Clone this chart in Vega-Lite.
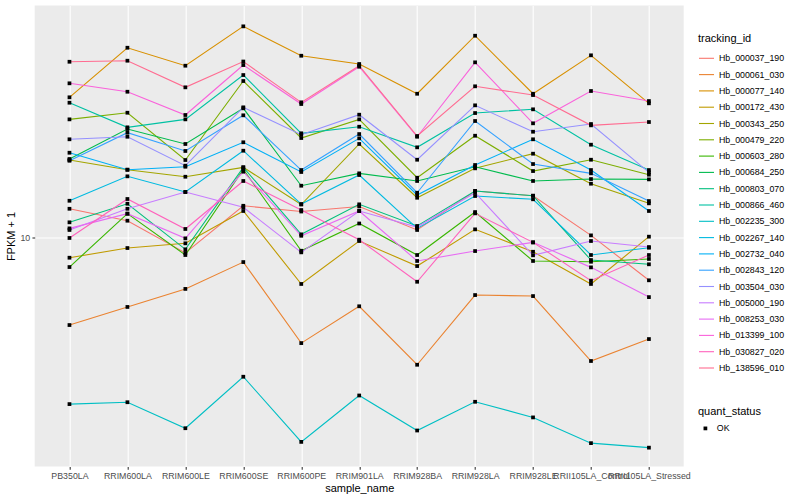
{
"$schema": "https://vega.github.io/schema/vega-lite/v6.json",
"autosize": {"type": "none"},
"padding": {"left": 34.7, "top": 5.5, "right": 116.3, "bottom": 33.5},
"width": 649,
"height": 461,
"background": "white",
"config": {
  "font": "Liberation Sans",
  "view": {"fill": "#EBEBEB", "stroke": null},
  "axis": {"domain": false, "grid": true, "gridColor": "white", "gridWidth": 1.07, "tickColor": "#333333", "tickWidth": 1.07, "tickSize": 2.75, "labelColor": "#4D4D4D", "labelFontSize": 8.8, "labelPadding": 2.2, "titleFontSize": 11, "titleFontWeight": "normal", "titleColor": "black", "labelFont": "Liberation Sans", "titleFont": "Liberation Sans"},
  "legend": {"labelFont": "Liberation Sans", "titleFont": "Liberation Sans", "labelFontSize": 8.8, "titleFontSize": 11, "titleFontWeight": "normal", "labelColor": "black", "titleColor": "black", "padding": 0}
},
"data": {"values": [
{"sample_name":"PB350LA","tracking_id":"Hb_000037_190","fpkm":12.45,"quant_status":"OK"},
{"sample_name":"RRIM600LA","tracking_id":"Hb_000037_190","fpkm":11.36,"quant_status":"OK"},
{"sample_name":"RRIM600LE","tracking_id":"Hb_000037_190","fpkm":8.87,"quant_status":"OK"},
{"sample_name":"RRIM600SE","tracking_id":"Hb_000037_190","fpkm":12.74,"quant_status":"OK"},
{"sample_name":"RRIM600PE","tracking_id":"Hb_000037_190","fpkm":12.19,"quant_status":"OK"},
{"sample_name":"RRIM901LA","tracking_id":"Hb_000037_190","fpkm":12.67,"quant_status":"OK"},
{"sample_name":"RRIM928BA","tracking_id":"Hb_000037_190","fpkm":10.58,"quant_status":"OK"},
{"sample_name":"RRIM928LA","tracking_id":"Hb_000037_190","fpkm":14.27,"quant_status":"OK"},
{"sample_name":"RRIM928LE","tracking_id":"Hb_000037_190","fpkm":13.76,"quant_status":"OK"},
{"sample_name":"RRII105LA_Control","tracking_id":"Hb_000037_190","fpkm":10.15,"quant_status":"OK"},
{"sample_name":"RRII105LA_Stressed","tracking_id":"Hb_000037_190","fpkm":7.19,"quant_status":"OK"},
{"sample_name":"PB350LA","tracking_id":"Hb_000061_030","fpkm":5.10,"quant_status":"OK"},
{"sample_name":"RRIM600LA","tracking_id":"Hb_000061_030","fpkm":5.86,"quant_status":"OK"},
{"sample_name":"RRIM600LE","tracking_id":"Hb_000061_030","fpkm":6.73,"quant_status":"OK"},
{"sample_name":"RRIM600SE","tracking_id":"Hb_000061_030","fpkm":8.27,"quant_status":"OK"},
{"sample_name":"RRIM600PE","tracking_id":"Hb_000061_030","fpkm":4.44,"quant_status":"OK"},
{"sample_name":"RRIM901LA","tracking_id":"Hb_000061_030","fpkm":5.89,"quant_status":"OK"},
{"sample_name":"RRIM928BA","tracking_id":"Hb_000061_030","fpkm":3.76,"quant_status":"OK"},
{"sample_name":"RRIM928LA","tracking_id":"Hb_000061_030","fpkm":6.42,"quant_status":"OK"},
{"sample_name":"RRIM928LE","tracking_id":"Hb_000061_030","fpkm":6.37,"quant_status":"OK"},
{"sample_name":"RRII105LA_Control","tracking_id":"Hb_000061_030","fpkm":3.87,"quant_status":"OK"},
{"sample_name":"RRII105LA_Stressed","tracking_id":"Hb_000061_030","fpkm":4.58,"quant_status":"OK"},
{"sample_name":"PB350LA","tracking_id":"Hb_000077_140","fpkm":29.29,"quant_status":"OK"},
{"sample_name":"RRIM600LA","tracking_id":"Hb_000077_140","fpkm":42.85,"quant_status":"OK"},
{"sample_name":"RRIM600LE","tracking_id":"Hb_000077_140","fpkm":37.33,"quant_status":"OK"},
{"sample_name":"RRIM600SE","tracking_id":"Hb_000077_140","fpkm":50.50,"quant_status":"OK"},
{"sample_name":"RRIM600PE","tracking_id":"Hb_000077_140","fpkm":40.30,"quant_status":"OK"},
{"sample_name":"RRIM901LA","tracking_id":"Hb_000077_140","fpkm":37.82,"quant_status":"OK"},
{"sample_name":"RRIM928BA","tracking_id":"Hb_000077_140","fpkm":30.10,"quant_status":"OK"},
{"sample_name":"RRIM928LA","tracking_id":"Hb_000077_140","fpkm":46.99,"quant_status":"OK"},
{"sample_name":"RRIM928LE","tracking_id":"Hb_000077_140","fpkm":30.10,"quant_status":"OK"},
{"sample_name":"RRII105LA_Control","tracking_id":"Hb_000077_140","fpkm":40.43,"quant_status":"OK"},
{"sample_name":"RRII105LA_Stressed","tracking_id":"Hb_000077_140","fpkm":27.97,"quant_status":"OK"},
{"sample_name":"PB350LA","tracking_id":"Hb_000172_430","fpkm":8.55,"quant_status":"OK"},
{"sample_name":"RRIM600LA","tracking_id":"Hb_000172_430","fpkm":9.21,"quant_status":"OK"},
{"sample_name":"RRIM600LE","tracking_id":"Hb_000172_430","fpkm":9.55,"quant_status":"OK"},
{"sample_name":"RRIM600SE","tracking_id":"Hb_000172_430","fpkm":12.24,"quant_status":"OK"},
{"sample_name":"RRIM600PE","tracking_id":"Hb_000172_430","fpkm":6.99,"quant_status":"OK"},
{"sample_name":"RRIM901LA","tracking_id":"Hb_000172_430","fpkm":9.72,"quant_status":"OK"},
{"sample_name":"RRIM928BA","tracking_id":"Hb_000172_430","fpkm":8.02,"quant_status":"OK"},
{"sample_name":"RRIM928LA","tracking_id":"Hb_000172_430","fpkm":10.63,"quant_status":"OK"},
{"sample_name":"RRIM928LE","tracking_id":"Hb_000172_430","fpkm":8.95,"quant_status":"OK"},
{"sample_name":"RRII105LA_Control","tracking_id":"Hb_000172_430","fpkm":6.99,"quant_status":"OK"},
{"sample_name":"RRII105LA_Stressed","tracking_id":"Hb_000172_430","fpkm":10.05,"quant_status":"OK"},
{"sample_name":"PB350LA","tracking_id":"Hb_000343_250","fpkm":18.10,"quant_status":"OK"},
{"sample_name":"RRIM600LA","tracking_id":"Hb_000343_250","fpkm":16.80,"quant_status":"OK"},
{"sample_name":"RRIM600LE","tracking_id":"Hb_000343_250","fpkm":15.92,"quant_status":"OK"},
{"sample_name":"RRIM600SE","tracking_id":"Hb_000343_250","fpkm":17.11,"quant_status":"OK"},
{"sample_name":"RRIM600PE","tracking_id":"Hb_000343_250","fpkm":12.86,"quant_status":"OK"},
{"sample_name":"RRIM901LA","tracking_id":"Hb_000343_250","fpkm":20.47,"quant_status":"OK"},
{"sample_name":"RRIM928BA","tracking_id":"Hb_000343_250","fpkm":13.55,"quant_status":"OK"},
{"sample_name":"RRIM928LA","tracking_id":"Hb_000343_250","fpkm":16.98,"quant_status":"OK"},
{"sample_name":"RRIM928LE","tracking_id":"Hb_000343_250","fpkm":19.00,"quant_status":"OK"},
{"sample_name":"RRII105LA_Control","tracking_id":"Hb_000343_250","fpkm":15.09,"quant_status":"OK"},
{"sample_name":"RRII105LA_Stressed","tracking_id":"Hb_000343_250","fpkm":12.98,"quant_status":"OK"},
{"sample_name":"PB350LA","tracking_id":"Hb_000479_220","fpkm":24.73,"quant_status":"OK"},
{"sample_name":"RRIM600LA","tracking_id":"Hb_000479_220","fpkm":26.02,"quant_status":"OK"},
{"sample_name":"RRIM600LE","tracking_id":"Hb_000479_220","fpkm":18.10,"quant_status":"OK"},
{"sample_name":"RRIM600SE","tracking_id":"Hb_000479_220","fpkm":33.19,"quant_status":"OK"},
{"sample_name":"RRIM600PE","tracking_id":"Hb_000479_220","fpkm":21.43,"quant_status":"OK"},
{"sample_name":"RRIM901LA","tracking_id":"Hb_000479_220","fpkm":24.73,"quant_status":"OK"},
{"sample_name":"RRIM928BA","tracking_id":"Hb_000479_220","fpkm":15.80,"quant_status":"OK"},
{"sample_name":"RRIM928LA","tracking_id":"Hb_000479_220","fpkm":21.81,"quant_status":"OK"},
{"sample_name":"RRIM928LE","tracking_id":"Hb_000479_220","fpkm":16.63,"quant_status":"OK"},
{"sample_name":"RRII105LA_Control","tracking_id":"Hb_000479_220","fpkm":18.14,"quant_status":"OK"},
{"sample_name":"RRII105LA_Stressed","tracking_id":"Hb_000479_220","fpkm":16.17,"quant_status":"OK"},
{"sample_name":"PB350LA","tracking_id":"Hb_000603_280","fpkm":7.96,"quant_status":"OK"},
{"sample_name":"RRIM600LA","tracking_id":"Hb_000603_280","fpkm":11.99,"quant_status":"OK"},
{"sample_name":"RRIM600LE","tracking_id":"Hb_000603_280","fpkm":8.73,"quant_status":"OK"},
{"sample_name":"RRIM600SE","tracking_id":"Hb_000603_280","fpkm":16.85,"quant_status":"OK"},
{"sample_name":"RRIM600PE","tracking_id":"Hb_000603_280","fpkm":9.02,"quant_status":"OK"},
{"sample_name":"RRIM901LA","tracking_id":"Hb_000603_280","fpkm":11.12,"quant_status":"OK"},
{"sample_name":"RRIM928BA","tracking_id":"Hb_000603_280","fpkm":8.73,"quant_status":"OK"},
{"sample_name":"RRIM928LA","tracking_id":"Hb_000603_280","fpkm":12.14,"quant_status":"OK"},
{"sample_name":"RRIM928LE","tracking_id":"Hb_000603_280","fpkm":8.34,"quant_status":"OK"},
{"sample_name":"RRII105LA_Control","tracking_id":"Hb_000603_280","fpkm":8.29,"quant_status":"OK"},
{"sample_name":"RRII105LA_Stressed","tracking_id":"Hb_000603_280","fpkm":8.47,"quant_status":"OK"},
{"sample_name":"PB350LA","tracking_id":"Hb_000684_250","fpkm":18.24,"quant_status":"OK"},
{"sample_name":"RRIM600LA","tracking_id":"Hb_000684_250","fpkm":22.96,"quant_status":"OK"},
{"sample_name":"RRIM600LE","tracking_id":"Hb_000684_250","fpkm":20.47,"quant_status":"OK"},
{"sample_name":"RRIM600SE","tracking_id":"Hb_000684_250","fpkm":26.92,"quant_status":"OK"},
{"sample_name":"RRIM600PE","tracking_id":"Hb_000684_250","fpkm":14.86,"quant_status":"OK"},
{"sample_name":"RRIM901LA","tracking_id":"Hb_000684_250","fpkm":16.34,"quant_status":"OK"},
{"sample_name":"RRIM928BA","tracking_id":"Hb_000684_250","fpkm":15.41,"quant_status":"OK"},
{"sample_name":"RRIM928LA","tracking_id":"Hb_000684_250","fpkm":17.19,"quant_status":"OK"},
{"sample_name":"RRIM928LE","tracking_id":"Hb_000684_250","fpkm":15.41,"quant_status":"OK"},
{"sample_name":"RRII105LA_Control","tracking_id":"Hb_000684_250","fpkm":15.64,"quant_status":"OK"},
{"sample_name":"RRII105LA_Stressed","tracking_id":"Hb_000684_250","fpkm":15.60,"quant_status":"OK"},
{"sample_name":"PB350LA","tracking_id":"Hb_000803_070","fpkm":11.22,"quant_status":"OK"},
{"sample_name":"RRIM600LA","tracking_id":"Hb_000803_070","fpkm":12.94,"quant_status":"OK"},
{"sample_name":"RRIM600LE","tracking_id":"Hb_000803_070","fpkm":9.12,"quant_status":"OK"},
{"sample_name":"RRIM600SE","tracking_id":"Hb_000803_070","fpkm":17.11,"quant_status":"OK"},
{"sample_name":"RRIM600PE","tracking_id":"Hb_000803_070","fpkm":10.23,"quant_status":"OK"},
{"sample_name":"RRIM901LA","tracking_id":"Hb_000803_070","fpkm":12.88,"quant_status":"OK"},
{"sample_name":"RRIM928BA","tracking_id":"Hb_000803_070","fpkm":10.91,"quant_status":"OK"},
{"sample_name":"RRIM928LA","tracking_id":"Hb_000803_070","fpkm":14.27,"quant_status":"OK"},
{"sample_name":"RRIM928LE","tracking_id":"Hb_000803_070","fpkm":13.76,"quant_status":"OK"},
{"sample_name":"RRII105LA_Control","tracking_id":"Hb_000803_070","fpkm":8.40,"quant_status":"OK"},
{"sample_name":"RRII105LA_Stressed","tracking_id":"Hb_000803_070","fpkm":8.13,"quant_status":"OK"},
{"sample_name":"PB350LA","tracking_id":"Hb_000866_460","fpkm":28.10,"quant_status":"OK"},
{"sample_name":"RRIM600LA","tracking_id":"Hb_000866_460","fpkm":23.26,"quant_status":"OK"},
{"sample_name":"RRIM600LE","tracking_id":"Hb_000866_460","fpkm":24.73,"quant_status":"OK"},
{"sample_name":"RRIM600SE","tracking_id":"Hb_000866_460","fpkm":34.75,"quant_status":"OK"},
{"sample_name":"RRIM600PE","tracking_id":"Hb_000866_460","fpkm":22.22,"quant_status":"OK"},
{"sample_name":"RRIM901LA","tracking_id":"Hb_000866_460","fpkm":23.37,"quant_status":"OK"},
{"sample_name":"RRIM928BA","tracking_id":"Hb_000866_460","fpkm":19.95,"quant_status":"OK"},
{"sample_name":"RRIM928LA","tracking_id":"Hb_000866_460","fpkm":25.96,"quant_status":"OK"},
{"sample_name":"RRIM928LE","tracking_id":"Hb_000866_460","fpkm":26.71,"quant_status":"OK"},
{"sample_name":"RRII105LA_Control","tracking_id":"Hb_000866_460","fpkm":20.36,"quant_status":"OK"},
{"sample_name":"RRII105LA_Stressed","tracking_id":"Hb_000866_460","fpkm":16.76,"quant_status":"OK"},
{"sample_name":"PB350LA","tracking_id":"Hb_002235_300","fpkm":2.78,"quant_status":"OK"},
{"sample_name":"RRIM600LA","tracking_id":"Hb_002235_300","fpkm":2.82,"quant_status":"OK"},
{"sample_name":"RRIM600LE","tracking_id":"Hb_002235_300","fpkm":2.31,"quant_status":"OK"},
{"sample_name":"RRIM600SE","tracking_id":"Hb_002235_300","fpkm":3.43,"quant_status":"OK"},
{"sample_name":"RRIM600PE","tracking_id":"Hb_002235_300","fpkm":2.08,"quant_status":"OK"},
{"sample_name":"RRIM901LA","tracking_id":"Hb_002235_300","fpkm":2.97,"quant_status":"OK"},
{"sample_name":"RRIM928BA","tracking_id":"Hb_002235_300","fpkm":2.27,"quant_status":"OK"},
{"sample_name":"RRIM928LA","tracking_id":"Hb_002235_300","fpkm":2.83,"quant_status":"OK"},
{"sample_name":"RRIM928LE","tracking_id":"Hb_002235_300","fpkm":2.51,"quant_status":"OK"},
{"sample_name":"RRII105LA_Control","tracking_id":"Hb_002235_300","fpkm":2.06,"quant_status":"OK"},
{"sample_name":"RRII105LA_Stressed","tracking_id":"Hb_002235_300","fpkm":1.99,"quant_status":"OK"},
{"sample_name":"PB350LA","tracking_id":"Hb_002267_140","fpkm":13.24,"quant_status":"OK"},
{"sample_name":"RRIM600LA","tracking_id":"Hb_002267_140","fpkm":15.97,"quant_status":"OK"},
{"sample_name":"RRIM600LE","tracking_id":"Hb_002267_140","fpkm":14.16,"quant_status":"OK"},
{"sample_name":"RRIM600SE","tracking_id":"Hb_002267_140","fpkm":19.44,"quant_status":"OK"},
{"sample_name":"RRIM600PE","tracking_id":"Hb_002267_140","fpkm":12.91,"quant_status":"OK"},
{"sample_name":"RRIM901LA","tracking_id":"Hb_002267_140","fpkm":16.13,"quant_status":"OK"},
{"sample_name":"RRIM928BA","tracking_id":"Hb_002267_140","fpkm":10.71,"quant_status":"OK"},
{"sample_name":"RRIM928LA","tracking_id":"Hb_002267_140","fpkm":13.73,"quant_status":"OK"},
{"sample_name":"RRIM928LE","tracking_id":"Hb_002267_140","fpkm":13.39,"quant_status":"OK"},
{"sample_name":"RRII105LA_Control","tracking_id":"Hb_002267_140","fpkm":8.73,"quant_status":"OK"},
{"sample_name":"RRII105LA_Stressed","tracking_id":"Hb_002267_140","fpkm":9.23,"quant_status":"OK"},
{"sample_name":"PB350LA","tracking_id":"Hb_002732_040","fpkm":19.14,"quant_status":"OK"},
{"sample_name":"RRIM600LA","tracking_id":"Hb_002732_040","fpkm":16.80,"quant_status":"OK"},
{"sample_name":"RRIM600LE","tracking_id":"Hb_002732_040","fpkm":17.19,"quant_status":"OK"},
{"sample_name":"RRIM600SE","tracking_id":"Hb_002732_040","fpkm":20.74,"quant_status":"OK"},
{"sample_name":"RRIM600PE","tracking_id":"Hb_002732_040","fpkm":16.51,"quant_status":"OK"},
{"sample_name":"RRIM901LA","tracking_id":"Hb_002732_040","fpkm":21.38,"quant_status":"OK"},
{"sample_name":"RRIM928BA","tracking_id":"Hb_002732_040","fpkm":13.84,"quant_status":"OK"},
{"sample_name":"RRIM928LA","tracking_id":"Hb_002732_040","fpkm":17.42,"quant_status":"OK"},
{"sample_name":"RRIM928LE","tracking_id":"Hb_002732_040","fpkm":21.22,"quant_status":"OK"},
{"sample_name":"RRII105LA_Control","tracking_id":"Hb_002732_040","fpkm":16.76,"quant_status":"OK"},
{"sample_name":"RRII105LA_Stressed","tracking_id":"Hb_002732_040","fpkm":12.24,"quant_status":"OK"},
{"sample_name":"PB350LA","tracking_id":"Hb_002843_120","fpkm":18.00,"quant_status":"OK"},
{"sample_name":"RRIM600LA","tracking_id":"Hb_002843_120","fpkm":22.32,"quant_status":"OK"},
{"sample_name":"RRIM600LE","tracking_id":"Hb_002843_120","fpkm":19.40,"quant_status":"OK"},
{"sample_name":"RRIM600SE","tracking_id":"Hb_002843_120","fpkm":25.51,"quant_status":"OK"},
{"sample_name":"RRIM600PE","tracking_id":"Hb_002843_120","fpkm":16.76,"quant_status":"OK"},
{"sample_name":"RRIM901LA","tracking_id":"Hb_002843_120","fpkm":22.09,"quant_status":"OK"},
{"sample_name":"RRIM928BA","tracking_id":"Hb_002843_120","fpkm":14.08,"quant_status":"OK"},
{"sample_name":"RRIM928LA","tracking_id":"Hb_002843_120","fpkm":24.42,"quant_status":"OK"},
{"sample_name":"RRIM928LE","tracking_id":"Hb_002843_120","fpkm":17.55,"quant_status":"OK"},
{"sample_name":"RRII105LA_Control","tracking_id":"Hb_002843_120","fpkm":16.34,"quant_status":"OK"},
{"sample_name":"RRII105LA_Stressed","tracking_id":"Hb_002843_120","fpkm":13.21,"quant_status":"OK"},
{"sample_name":"PB350LA","tracking_id":"Hb_003504_030","fpkm":21.22,"quant_status":"OK"},
{"sample_name":"RRIM600LA","tracking_id":"Hb_003504_030","fpkm":21.64,"quant_status":"OK"},
{"sample_name":"RRIM600LE","tracking_id":"Hb_003504_030","fpkm":17.33,"quant_status":"OK"},
{"sample_name":"RRIM600SE","tracking_id":"Hb_003504_030","fpkm":27.12,"quant_status":"OK"},
{"sample_name":"RRIM600PE","tracking_id":"Hb_003504_030","fpkm":21.98,"quant_status":"OK"},
{"sample_name":"RRIM901LA","tracking_id":"Hb_003504_030","fpkm":25.63,"quant_status":"OK"},
{"sample_name":"RRIM928BA","tracking_id":"Hb_003504_030","fpkm":18.14,"quant_status":"OK"},
{"sample_name":"RRIM928LA","tracking_id":"Hb_003504_030","fpkm":27.54,"quant_status":"OK"},
{"sample_name":"RRIM928LE","tracking_id":"Hb_003504_030","fpkm":22.49,"quant_status":"OK"},
{"sample_name":"RRII105LA_Control","tracking_id":"Hb_003504_030","fpkm":23.86,"quant_status":"OK"},
{"sample_name":"RRII105LA_Stressed","tracking_id":"Hb_003504_030","fpkm":16.47,"quant_status":"OK"},
{"sample_name":"PB350LA","tracking_id":"Hb_005000_190","fpkm":10.58,"quant_status":"OK"},
{"sample_name":"RRIM600LA","tracking_id":"Hb_005000_190","fpkm":12.45,"quant_status":"OK"},
{"sample_name":"RRIM600LE","tracking_id":"Hb_005000_190","fpkm":14.16,"quant_status":"OK"},
{"sample_name":"RRIM600SE","tracking_id":"Hb_005000_190","fpkm":12.59,"quant_status":"OK"},
{"sample_name":"RRIM600PE","tracking_id":"Hb_005000_190","fpkm":8.91,"quant_status":"OK"},
{"sample_name":"RRIM901LA","tracking_id":"Hb_005000_190","fpkm":12.24,"quant_status":"OK"},
{"sample_name":"RRIM928BA","tracking_id":"Hb_005000_190","fpkm":10.82,"quant_status":"OK"},
{"sample_name":"RRIM928LA","tracking_id":"Hb_005000_190","fpkm":14.08,"quant_status":"OK"},
{"sample_name":"RRIM928LE","tracking_id":"Hb_005000_190","fpkm":8.71,"quant_status":"OK"},
{"sample_name":"RRII105LA_Control","tracking_id":"Hb_005000_190","fpkm":9.72,"quant_status":"OK"},
{"sample_name":"RRII105LA_Stressed","tracking_id":"Hb_005000_190","fpkm":9.28,"quant_status":"OK"},
{"sample_name":"PB350LA","tracking_id":"Hb_008253_030","fpkm":10.71,"quant_status":"OK"},
{"sample_name":"RRIM600LA","tracking_id":"Hb_008253_030","fpkm":11.99,"quant_status":"OK"},
{"sample_name":"RRIM600LE","tracking_id":"Hb_008253_030","fpkm":9.92,"quant_status":"OK"},
{"sample_name":"RRIM600SE","tracking_id":"Hb_008253_030","fpkm":16.55,"quant_status":"OK"},
{"sample_name":"RRIM600PE","tracking_id":"Hb_008253_030","fpkm":10.12,"quant_status":"OK"},
{"sample_name":"RRIM901LA","tracking_id":"Hb_008253_030","fpkm":12.24,"quant_status":"OK"},
{"sample_name":"RRIM928BA","tracking_id":"Hb_008253_030","fpkm":8.34,"quant_status":"OK"},
{"sample_name":"RRIM928LA","tracking_id":"Hb_008253_030","fpkm":9.00,"quant_status":"OK"},
{"sample_name":"RRIM928LE","tracking_id":"Hb_008253_030","fpkm":9.62,"quant_status":"OK"},
{"sample_name":"RRII105LA_Control","tracking_id":"Hb_008253_030","fpkm":7.94,"quant_status":"OK"},
{"sample_name":"RRII105LA_Stressed","tracking_id":"Hb_008253_030","fpkm":6.32,"quant_status":"OK"},
{"sample_name":"PB350LA","tracking_id":"Hb_013399_100","fpkm":32.61,"quant_status":"OK"},
{"sample_name":"RRIM600LA","tracking_id":"Hb_013399_100","fpkm":30.57,"quant_status":"OK"},
{"sample_name":"RRIM600LE","tracking_id":"Hb_013399_100","fpkm":25.57,"quant_status":"OK"},
{"sample_name":"RRIM600SE","tracking_id":"Hb_013399_100","fpkm":37.52,"quant_status":"OK"},
{"sample_name":"RRIM600PE","tracking_id":"Hb_013399_100","fpkm":27.82,"quant_status":"OK"},
{"sample_name":"RRIM901LA","tracking_id":"Hb_013399_100","fpkm":37.04,"quant_status":"OK"},
{"sample_name":"RRIM928BA","tracking_id":"Hb_013399_100","fpkm":21.64,"quant_status":"OK"},
{"sample_name":"RRIM928LA","tracking_id":"Hb_013399_100","fpkm":38.31,"quant_status":"OK"},
{"sample_name":"RRIM928LE","tracking_id":"Hb_013399_100","fpkm":23.99,"quant_status":"OK"},
{"sample_name":"RRII105LA_Control","tracking_id":"Hb_013399_100","fpkm":30.74,"quant_status":"OK"},
{"sample_name":"RRII105LA_Stressed","tracking_id":"Hb_013399_100","fpkm":28.46,"quant_status":"OK"},
{"sample_name":"PB350LA","tracking_id":"Hb_030827_020","fpkm":9.95,"quant_status":"OK"},
{"sample_name":"RRIM600LA","tracking_id":"Hb_030827_020","fpkm":13.42,"quant_status":"OK"},
{"sample_name":"RRIM600LE","tracking_id":"Hb_030827_020","fpkm":10.66,"quant_status":"OK"},
{"sample_name":"RRIM600SE","tracking_id":"Hb_030827_020","fpkm":15.41,"quant_status":"OK"},
{"sample_name":"RRIM600PE","tracking_id":"Hb_030827_020","fpkm":12.33,"quant_status":"OK"},
{"sample_name":"RRIM901LA","tracking_id":"Hb_030827_020","fpkm":9.82,"quant_status":"OK"},
{"sample_name":"RRIM928BA","tracking_id":"Hb_030827_020","fpkm":7.11,"quant_status":"OK"},
{"sample_name":"RRIM928LA","tracking_id":"Hb_030827_020","fpkm":12.02,"quant_status":"OK"},
{"sample_name":"RRIM928LE","tracking_id":"Hb_030827_020","fpkm":9.62,"quant_status":"OK"},
{"sample_name":"RRII105LA_Control","tracking_id":"Hb_030827_020","fpkm":7.17,"quant_status":"OK"},
{"sample_name":"RRII105LA_Stressed","tracking_id":"Hb_030827_020","fpkm":8.73,"quant_status":"OK"},
{"sample_name":"PB350LA","tracking_id":"Hb_138596_010","fpkm":38.48,"quant_status":"OK"},
{"sample_name":"RRIM600LA","tracking_id":"Hb_138596_010","fpkm":38.79,"quant_status":"OK"},
{"sample_name":"RRIM600LE","tracking_id":"Hb_138596_010","fpkm":31.62,"quant_status":"OK"},
{"sample_name":"RRIM600SE","tracking_id":"Hb_138596_010","fpkm":38.55,"quant_status":"OK"},
{"sample_name":"RRIM600PE","tracking_id":"Hb_138596_010","fpkm":28.18,"quant_status":"OK"},
{"sample_name":"RRIM901LA","tracking_id":"Hb_138596_010","fpkm":37.33,"quant_status":"OK"},
{"sample_name":"RRIM928BA","tracking_id":"Hb_138596_010","fpkm":21.76,"quant_status":"OK"},
{"sample_name":"RRIM928LA","tracking_id":"Hb_138596_010","fpkm":31.87,"quant_status":"OK"},
{"sample_name":"RRIM928LE","tracking_id":"Hb_138596_010","fpkm":29.80,"quant_status":"OK"},
{"sample_name":"RRII105LA_Control","tracking_id":"Hb_138596_010","fpkm":23.62,"quant_status":"OK"},
{"sample_name":"RRII105LA_Stressed","tracking_id":"Hb_138596_010","fpkm":24.23,"quant_status":"OK"}
]},
"encoding": {
  "x": {"field": "sample_name", "type": "nominal",
        "sort": ["PB350LA","RRIM600LA","RRIM600LE","RRIM600SE","RRIM600PE","RRIM901LA","RRIM928BA","RRIM928LA","RRIM928LE","RRII105LA_Control","RRII105LA_Stressed"],
        "scale": {"type": "point", "padding": 0.6},
        "axis": {"title": "sample_name", "labelAngle": 0, "labelOverlap": false, "labelFlush": false, "titlePadding": 2}},
  "y": {"field": "fpkm", "type": "quantitative",
        "scale": {"type": "log", "domain": [1.722, 59.26], "nice": false, "zero": false},
        "axis": {"title": "FPKM + 1", "values": [10], "format": "~g", "titlePadding": 3}}
},
"layer": [
  {"mark": {"type": "line", "strokeWidth": 1.1},
   "encoding": {
     "color": {"field": "tracking_id", "type": "nominal",
       "scale": {"domain": ["Hb_000037_190","Hb_000061_030","Hb_000077_140","Hb_000172_430","Hb_000343_250","Hb_000479_220","Hb_000603_280","Hb_000684_250","Hb_000803_070","Hb_000866_460","Hb_002235_300","Hb_002267_140","Hb_002732_040","Hb_002843_120","Hb_003504_030","Hb_005000_190","Hb_008253_030","Hb_013399_100","Hb_030827_020","Hb_138596_010"],
                 "range": ["#F8766D","#EA8331","#D89000","#C09B00","#A3A500","#7CAE00","#39B600","#00BB4E","#00BF7D","#00C1A3","#00BFC4","#00BAE0","#00B0F6","#35A2FF","#9590FF","#C77CFF","#E76BF3","#FA62DB","#FF62BC","#FF6C91"]},
       "legend": {"title": "tracking_id", "orient": "none", "legendX": 663.3, "legendY": 27, "direction": "vertical", "symbolType": "stroke", "symbolSize": 225, "symbolStrokeWidth": 1.1, "rowPadding": 2.3, "titlePadding": 6.3, "labelOffset": 4}}
   }},
  {"mark": {"type": "point", "filled": true, "color": "black", "size": 14, "opacity": 1},
   "encoding": {
     "shape": {"field": "quant_status", "type": "nominal",
       "scale": {"domain": ["OK"], "range": ["square"]},
       "legend": {"title": "quant_status", "orient": "none", "legendX": 663.3, "legendY": 400.5, "symbolSize": 14, "symbolFillColor": "black", "symbolStrokeColor": "black", "symbolOffset": 3, "labelOffset": 7, "titlePadding": 7}}
   }}
]
}
